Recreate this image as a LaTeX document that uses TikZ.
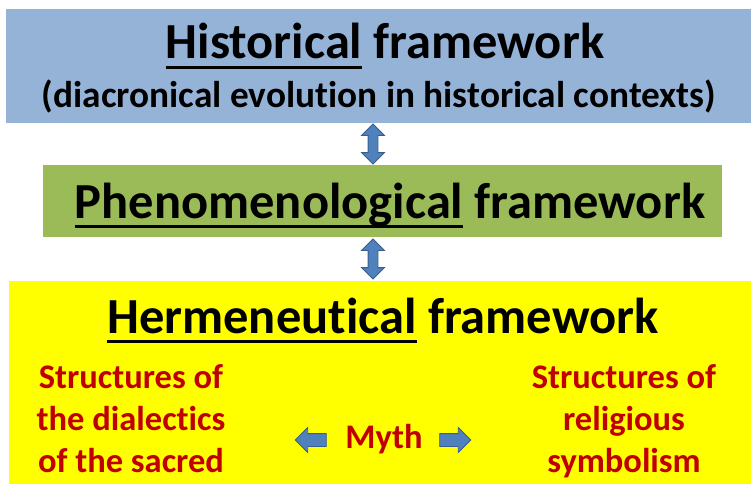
\documentclass[tikz,border=0pt]{standalone}
\usepackage{fontspec}
\setmainfont{Carlito}[Ligatures=NoCommon]
\usetikzlibrary{shapes.arrows,calc}
\definecolor{boxblue}{HTML}{95B3D7}
\definecolor{boxgreen}{HTML}{9BBB59}
\definecolor{boxyellow}{HTML}{FFFF00}
\definecolor{txtred}{HTML}{C00000}
\definecolor{arrfill}{HTML}{4F81BD}
\definecolor{arrdraw}{HTML}{385D8A}
\newlength\ulw
\newcommand\myul[1]{\settowidth{\ulw}{#1}\rlap{\rule[-10pt]{\ulw}{2.8pt}}#1}
\tikzset{
  bigtxt/.style={anchor=base, inner sep=0pt, font=\bfseries\fontsize{50.5}{60}\selectfont},
  subtxt/.style={anchor=base, inner sep=0pt, font=\bfseries\fontsize{37.3}{44}\selectfont},
  redtxt/.style={anchor=base, inner sep=0pt, text=txtred, font=\bfseries\fontsize{34.5}{42}\selectfont},
  vdarrow/.style={double arrow, shape border rotate=90, fill=arrfill, draw=arrdraw, line width=0.8pt,
    minimum height=40pt, inner sep=4.5pt, double arrow head extend=6.5pt},
  harrow/.style={single arrow, fill=arrfill, draw=arrdraw, line width=0.8pt,
    minimum height=31pt, inner sep=6pt, single arrow head extend=6pt},
}
\begin{document}
\begin{tikzpicture}[x=1pt,y=-1pt]
\useasboundingbox (0,0) rectangle (751,484);
% panels
\fill[boxblue] (6,9) rectangle (751,123);
\coordinate (blueS) at (373,123);
\fill[boxgreen] (43,165) rectangle (722,237);
\coordinate (greenN) at (373,165);
\coordinate (greenS) at (373,237);
\fill[boxyellow] (9,281) rectangle (751,484);
\coordinate (yellowN) at (373,281);
% texts
\node[bigtxt] (hist) at (385,59) {\myul{Historical} framework};
\node[subtxt] (histsub) at (379,107) {(diacronical evolution in historical contexts)};
\node[bigtxt] (phen) at (390,218) {\myul{Phenomenological} framework};
\node[bigtxt] (herm) at (383,333) {\myul{Hermeneutical} framework};
\node[redtxt] (l1) at (131,388) {Structures of};
\node[redtxt] (l2) at (131,430) {the dialectics};
\node[redtxt] (l3) at (131,472) {of the sacred};
\node[redtxt] (r1) at (624,388) {Structures of};
\node[redtxt] (r2) at (624,430) {religious};
\node[redtxt] (r3) at (624,472) {symbolism};
\node[redtxt] (myth) at (384,448) {Myth};
% arrows
\node[vdarrow] (a1) at ($(blueS)!0.5!(greenN)$) {};
\node[vdarrow] (a2) at ($(greenS)!0.5!(yellowN)$) {};
\node[harrow, shape border rotate=180] (la) at (314,440) {};
\node[harrow] (ra) at (452,440) {};
\end{tikzpicture}
\end{document}
